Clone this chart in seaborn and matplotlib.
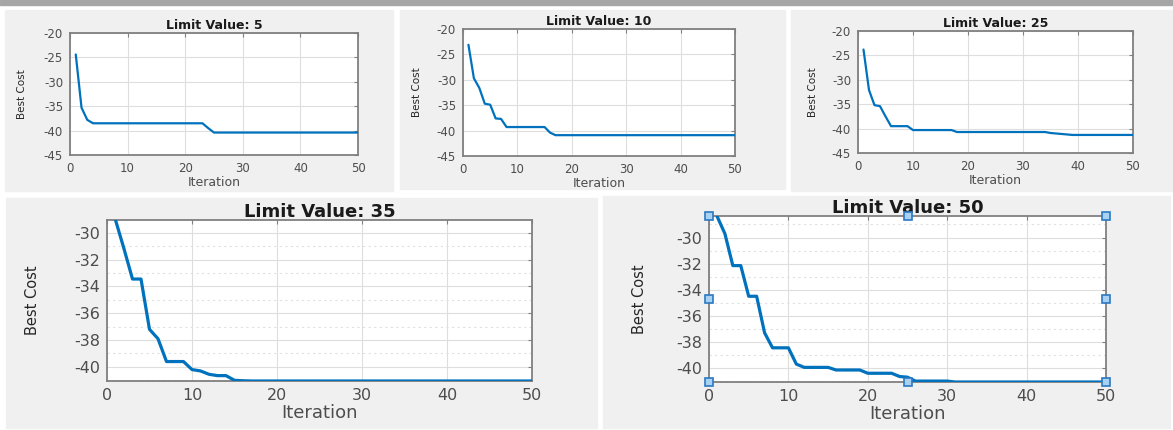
import matplotlib
matplotlib.use("Agg")
import matplotlib.pyplot as plt
from matplotlib.patches import Rectangle
from matplotlib.ticker import MultipleLocator
import seaborn as sns

# iterations and best cost per limit value
iterations = list(range(1, 51))

cost_limit_5 = [-24.4, -35.3, -37.8, -38.5, -38.5, -38.5, -38.5, -38.5, -38.5, -38.5,
                -38.5, -38.5, -38.5, -38.5, -38.5, -38.5, -38.5, -38.5, -38.5, -38.5,
                -38.5, -38.5, -38.5, -39.5, -40.4, -40.4, -40.4, -40.4, -40.4, -40.4,
                -40.4, -40.4, -40.4, -40.4, -40.4, -40.4, -40.4, -40.4, -40.4, -40.4,
                -40.4, -40.4, -40.4, -40.4, -40.4, -40.4, -40.4, -40.4, -40.4, -40.4]

cost_limit_10 = [-23.1, -29.7, -31.6, -34.7, -34.9, -37.6, -37.7, -39.3, -39.3, -39.3,
                 -39.3, -39.3, -39.3, -39.3, -39.3, -40.4, -40.9, -40.9, -40.9, -40.9,
                 -40.9, -40.9, -40.9, -40.9, -40.9, -40.9, -40.9, -40.9, -40.9, -40.9,
                 -40.9, -40.9, -40.9, -40.9, -40.9, -40.9, -40.9, -40.9, -40.9, -40.9,
                 -40.9, -40.9, -40.9, -40.9, -40.9, -40.9, -40.9, -40.9, -40.9, -40.9]

cost_limit_25 = [-23.8, -32.1, -35.2, -35.4, -37.5, -39.5, -39.5, -39.5, -39.5, -40.3,
                 -40.3, -40.3, -40.3, -40.3, -40.3, -40.3, -40.3, -40.7, -40.7, -40.7,
                 -40.7, -40.7, -40.7, -40.7, -40.7, -40.7, -40.7, -40.7, -40.7, -40.7,
                 -40.7, -40.7, -40.7, -40.7, -40.9, -41.0, -41.1, -41.2, -41.3, -41.3,
                 -41.3, -41.3, -41.3, -41.3, -41.3, -41.3, -41.3, -41.3, -41.3, -41.3]

cost_limit_35 = [-29.05, -31.2, -33.45, -33.45, -37.2, -37.9, -39.6, -39.6, -39.6, -40.2,
                 -40.3, -40.55, -40.65, -40.65, -41.0, -41.03, -41.05, -41.05, -41.05, -41.05,
                 -41.05, -41.05, -41.05, -41.05, -41.05, -41.05, -41.05, -41.05, -41.05, -41.05,
                 -41.05, -41.05, -41.05, -41.05, -41.05, -41.05, -41.05, -41.05, -41.05, -41.05,
                 -41.05, -41.05, -41.05, -41.05, -41.05, -41.05, -41.05, -41.05, -41.05, -41.05]

cost_limit_50 = [-28.35, -29.7, -32.15, -32.15, -34.5, -34.5, -37.3, -38.45, -38.45, -38.45,
                 -39.7, -39.95, -39.95, -39.95, -39.95, -40.15, -40.15, -40.15, -40.15, -40.4,
                 -40.4, -40.4, -40.4, -40.65, -40.7, -41.0, -41.0, -41.0, -41.0, -41.0,
                 -41.07, -41.07, -41.07, -41.07, -41.07, -41.07, -41.07, -41.07, -41.07, -41.07,
                 -41.07, -41.07, -41.07, -41.07, -41.07, -41.07, -41.07, -41.07, -41.07, -41.07]

W, H = 1173, 430
LINE = "#0072BD"


def px_rect(x0, y0, x1, y1):
    # pixel box (top-left origin) -> figure fraction [left, bottom, width, height]
    return [x0 / W, 1 - y1 / H, (x1 - x0) / W, (y1 - y0) / H]


sns.set_theme(style="white")
plt.rcParams["font.family"] = ["DejaVu Sans"]
plt.rcParams["axes.unicode_minus"] = False

fig = plt.figure(figsize=(W / 100, H / 100), dpi=100)
fig.patch.set_facecolor("white")

# strip at the top and the grey figure backgrounds of each panel
fig.patches.append(Rectangle((0, 1 - 5 / H), 1, 5 / H, transform=fig.transFigure,
                             color="#a6a6a6", zorder=-5))
for box in [(5, 10, 393, 191), (400, 10, 785, 189), (791, 10, 1173, 191),
            (6, 198, 597, 428), (603, 196, 1170, 428)]:
    l, b, w, h = px_rect(*box)
    fig.patches.append(Rectangle((l, b), w, h, transform=fig.transFigure,
                                 color="#f0f0f0", zorder=-5))

panels = [
    dict(cost=cost_limit_5, title="Limit Value: 5", box=(70, 33, 358, 155), small=True, ylab=-0.149),
    dict(cost=cost_limit_10, title="Limit Value: 10", box=(463, 29, 735, 156), small=True, ylab=-0.151),
    dict(cost=cost_limit_25, title="Limit Value: 25", box=(858, 31, 1133, 153), small=True, ylab=-0.145),
    dict(cost=cost_limit_35, title="Limit Value: 35", box=(107, 220, 532, 381), small=False, ylab=-0.158),
    dict(cost=cost_limit_50, title="Limit Value: 50", box=(709, 216, 1106, 382), small=False, ylab=-0.156),
]

for i, p in enumerate(panels):
    ax = fig.add_axes(px_rect(*p["box"]), zorder=2)
    ax.set_facecolor("white")
    small = p["small"]
    sns.lineplot(x=iterations, y=p["cost"], ax=ax, color=LINE,
                 linewidth=1.6 if small else 2.3, zorder=3)

    ax.set_xlim(0, 50)
    ax.xaxis.set_major_locator(MultipleLocator(10))
    if small:
        ax.set_ylim(-45, -20)
        ax.yaxis.set_major_locator(MultipleLocator(5))
        fs_tick, fs_x, fs_y, fs_title, tpad = 8.5, 9, 7.5, 9, 3
    else:
        ax.set_ylim(min(p["cost"]), max(p["cost"]))
        ax.yaxis.set_major_locator(MultipleLocator(2))
        ax.yaxis.set_minor_locator(MultipleLocator(1))
        ax.grid(True, which="minor", axis="y", color="#e0e0e0",
                linestyle=(0, (2, 3)), linewidth=0.8)
        fs_tick, fs_x, fs_y, fs_title, tpad = 11.5, 13, 10.5, 13, 2

    ax.grid(True, which="major", color="#dedede", linewidth=0.8)
    ax.set_axisbelow(True)
    for s in ax.spines.values():
        s.set_color("#808080")
        s.set_linewidth(1.3)
    ax.tick_params(which="both", direction="in", top=True, right=True,
                   length=3, width=0.8, color="#808080",
                   labelsize=fs_tick, labelcolor="#4d4d4d", pad=5)
    ax.tick_params(which="minor", length=0)

    ax.set_title(p["title"], fontsize=fs_title, fontweight="bold", color="#1a1a1a", pad=tpad)
    ax.set_xlabel("Iteration", fontsize=fs_x, color="#4d4d4d", labelpad=1)
    ax.set_ylabel("Best Cost", fontsize=fs_y, color="#262626")
    ax.yaxis.set_label_coords(p["ylab"], 0.5)

    if i == 4:
        # selection handles around the active axes
        hx = [0, 0.5, 1, 0, 1, 0, 0.5, 1]
        hy = [0, 0, 0, 0.5, 0.5, 1, 1, 1]
        ax.plot(hx, hy, linestyle="none", marker="s", markersize=6,
                markerfacecolor="#a9d1f2", markeredgecolor="#2b78c2",
                markeredgewidth=1.2, transform=ax.transAxes, clip_on=False, zorder=5)

fig.savefig("out.png", dpi=100, facecolor=fig.get_facecolor())
